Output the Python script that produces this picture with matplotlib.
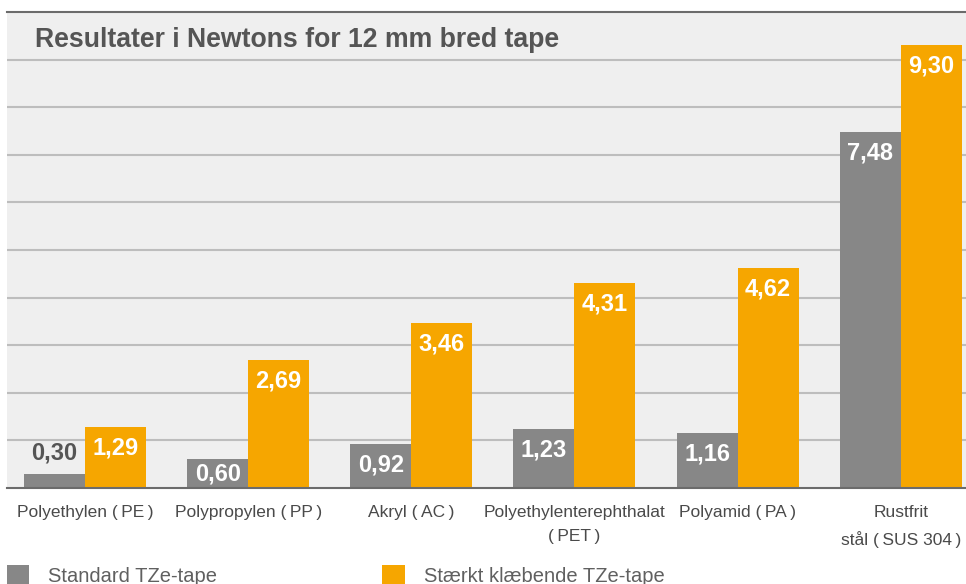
import matplotlib.pyplot as plt
import numpy as np

# Data
categories = ['Polyethylen (\u2009PE\u2009)', 'Polypropylen (\u2009PP\u2009)', 'Akryl (\u2009AC\u2009)',
              'Polyethylenterephthalat\n(\u2009PET\u2009)', 'Polyamid (\u2009PA\u2009)',
              'Rustfrit\nstål (\u2009SUS 304\u2009)']
standard = [0.30, 0.60, 0.92, 1.23, 1.16, 7.48]
strong = [1.29, 2.69, 3.46, 4.31, 4.62, 9.30]
series_names = ['Standard TZe-tape', 'Stærkt klæbende TZe-tape']

GRAY = '#878787'
ORANGE = '#f6a600'
BG = '#efefef'
TXT = '#555555'

plt.rcParams['font.family'] = ['Liberation Sans', 'DejaVu Sans']

fig = plt.figure(figsize=(9.66, 5.84), dpi=100)
ax = fig.add_axes([7 / 966, 96 / 584, 959 / 966, 476 / 584])
ax.set_facecolor(BG)

x = np.arange(len(categories))
w = 0.374
b1 = ax.bar(x - w / 2, standard, w, color=GRAY, label=series_names[0], zorder=3)
b2 = ax.bar(x + w / 2, strong, w, color=ORANGE, label=series_names[1], zorder=3)

ax.set_ylim(0, 10)
ax.set_xlim(-0.478, 5.40)

# gridlines
for g in range(1, 10):
    ax.axhline(g, color='#bdbdbd', lw=1.5, zorder=1)

for s in ['left', 'right']:
    ax.spines[s].set_visible(False)
ax.spines['top'].set_color('#6b6b6b')
ax.spines['top'].set_linewidth(1.5)
ax.spines['bottom'].set_color('#6b6b6b')
ax.spines['bottom'].set_linewidth(1.5)
ax.spines['bottom'].set_zorder(4)
ax.set_yticks([])

ax.set_xticks(x)
ax.set_xticklabels(categories, fontsize=12.5, color='#4a4a4a', linespacing=1.8)
ax.tick_params(axis='x', length=0, pad=12)


def fmt(v):
    return f'{v:.2f}'.replace('.', ',')


for bars in (b1, b2):
    for rect in bars:
        v = rect.get_height()
        cx = rect.get_x() + rect.get_width() / 2
        if v < 0.5:
            ax.text(cx, v + 0.43, fmt(v), ha='center', va='center',
                    fontsize=17, fontweight='bold', color=TXT, zorder=5)
        else:
            ax.text(cx, max(v - 0.44, 0.29), fmt(v), ha='center', va='center',
                    fontsize=17, fontweight='bold', color='white', zorder=5)

fig.text(35 / 966, 1 - 47 / 584, 'Resultater i Newtons for 12 mm bred tape',
         fontsize=19.2, fontweight='bold', color=TXT, va='baseline', ha='left')

fig.legend(handles=[b1, b2], loc='upper left', bbox_to_anchor=(7 / 966, 1 - 565 / 584),
           ncol=2, frameon=False, fontsize=14.5, labelcolor='#606060',
           handlelength=1.1, handleheight=1.1, handletextpad=0.95,
           columnspacing=8.2, borderpad=0, borderaxespad=0)

fig.savefig('out.png', dpi=100, facecolor='white')
